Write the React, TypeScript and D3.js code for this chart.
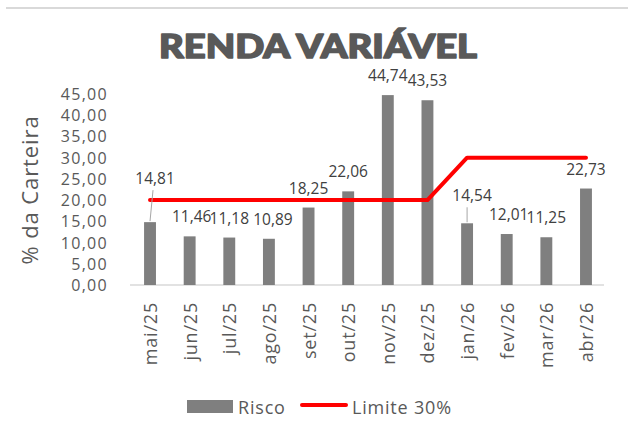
import React from "react";
import * as d3 from "d3";

const categories = ["mai/25","jun/25","jul/25","ago/25","set/25","out/25","nov/25","dez/25","jan/26","fev/26","mar/26","abr/26"];
const risco = [14.81, 11.46, 11.18, 10.89, 18.25, 22.06, 44.74, 43.53, 14.54, 12.01, 11.25, 22.73];
const limite = [20, 20, 20, 20, 20, 20, 20, 20, 30, 30, 30, 30];
const yTicks = [0, 5, 10, 15, 20, 25, 30, 35, 40, 45];

const W = 628, H = 432;
const FONT = "'Open Sans', 'Noto Sans', sans-serif";
const fmt = (v: number) => v.toFixed(2).replace(".", ",");

// label adjustments (layout only)
const labelAdjust: Record<number, { dx: number; dy: number; leader: boolean }> = {
  0: { dx: 5, dy: -24, leader: true },
  1: { dx: 2, dy: 0, leader: false },
  3: { dx: 4, dy: 0, leader: false },
  8: { dx: 5, dy: -8, leader: true },
  9: { dx: 2, dy: 0, leader: false },
};

export default function App() {
  const x = d3.scaleBand<string>().domain(categories).range([130.2, 605.8]).paddingInner(0.7).paddingOuter(0.35);
  const y = d3.scaleLinear().domain([0, 45]).range([285, 94]);
  const cx = (c: string) => (x(c) as number) + x.bandwidth() / 2;
  const line = d3.line<number>().x((_, i) => cx(categories[i])).y((d) => y(d));

  return (
    <svg width={W} height={H} style={{ position: "absolute", left: 0, top: 0, background: "#fff" }}>
      <line x1={6} x2={628} y1={8} y2={8} stroke="#d9d9d9" strokeWidth={2} />
      <text x={318} y={45} textAnchor="middle" dominantBaseline="central" fontFamily="Lato, sans-serif" fontWeight={900} fontSize={33} fill="#595959" stroke="#595959" strokeWidth={1.6} strokeLinejoin="round" textLength={318} lengthAdjust="spacingAndGlyphs">RENDA VARIÁVEL</text>

      <text transform="translate(29,190) rotate(-90)" textAnchor="middle" dominantBaseline="central" fontFamily={FONT} fontSize={22} fill="#595959" letterSpacing={0.9}>% da Carteira</text>

      {yTicks.map((t) => (
        <text key={t} x={108} y={y(t)} textAnchor="end" dominantBaseline="central" fontFamily={FONT} fontSize={16} fill="#595959" letterSpacing={1.3}>{fmt(t)}</text>
      ))}

      <line x1={130} x2={604} y1={285} y2={285} stroke="#d9d9d9" strokeWidth={1.5} />

      {risco.map((v, i) => (
        <rect key={i} x={x(categories[i]) as number} y={y(v)} width={x.bandwidth()} height={y(0) - y(v)} fill="#7f7f7f" />
      ))}

      <path d={line(limite) || ""} fill="none" stroke="#ff0000" strokeWidth={4} strokeLinecap="round" strokeLinejoin="round" />

      {risco.map((v, i) => {
        const a = labelAdjust[i] || { dx: 0, dy: 0, leader: false };
        const lx = cx(categories[i]) + a.dx;
        const ly = y(v) - 20 + a.dy;
        return (
          <g key={i}>
            {a.leader && (
              <line x1={i === 0 ? lx - 2 : cx(categories[i])} y1={ly + 12} x2={cx(categories[i])} y2={y(v) - 1} stroke="#a6a6a6" strokeWidth={1} />
            )}
            <text x={lx} y={ly} textAnchor="middle" dominantBaseline="central" fontFamily={FONT} fontSize={15.5} fill="#404040">{fmt(v)}</text>
          </g>
        );
      })}

      {categories.map((c) => (
        <text key={c} transform={`translate(${cx(c)},302) rotate(-90)`} textAnchor="end" dominantBaseline="central" fontFamily={FONT} fontSize={18} fill="#595959" letterSpacing={0.8}>{c}</text>
      ))}

      <rect x={187} y={400} width={46} height={13} fill="#7f7f7f" />
      <text x={238} y={407} dominantBaseline="central" fontFamily={FONT} fontSize={18} fill="#595959" letterSpacing={0.8}>Risco</text>
      <line x1={302} x2={346} y1={405} y2={405} stroke="#ff0000" strokeWidth={4} strokeLinecap="round" />
      <text x={352} y={407} dominantBaseline="central" fontFamily={FONT} fontSize={18} fill="#595959" letterSpacing={0.8}>Limite 30%</text>
    </svg>
  );
}
